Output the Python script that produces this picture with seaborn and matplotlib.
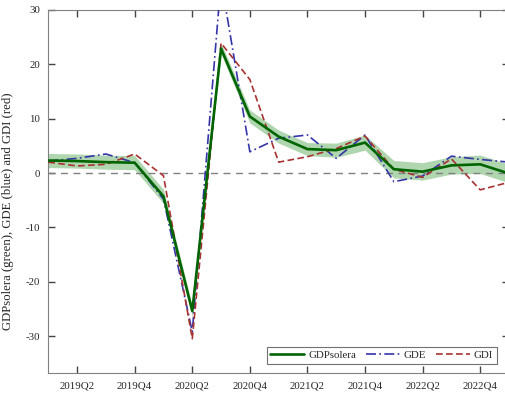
import numpy as np
import pandas as pd
import matplotlib
matplotlib.use("Agg")
import matplotlib.pyplot as plt
import seaborn as sns

quarters = ["2019Q1", "2019Q2", "2019Q3", "2019Q4", "2020Q1", "2020Q2", "2020Q3", "2020Q4",
            "2021Q1", "2021Q2", "2021Q3", "2021Q4", "2022Q1", "2022Q2", "2022Q3", "2022Q4", "2023Q1"]
gdp_solera = [2.3, 2.2, 2.0, 1.9, -4.3, -25.4, 22.9, 10.4, 6.7, 4.4, 4.2, 5.6, 0.7, 0.25, 1.4, 1.6, -0.1]
band_upper = [3.6, 3.5, 3.3, 3.2, -3.0, -24.4, 23.9, 11.6, 7.9, 5.6, 5.5, 7.0, 2.3, 1.9, 3.0, 3.3, 1.6]
band_lower = [1.0, 0.9, 0.7, 0.6, -5.6, -26.4, 21.9, 9.2, 5.5, 3.2, 2.9, 4.2, -0.9, -1.3, -0.2, -0.1, -1.8]
gde = [2.2, 2.7, 3.5, 1.9, -4.8, -29.2, 35.5, 3.9, 6.4, 7.0, 2.7, 7.0, -1.6, -0.55, 3.1, 2.5, 2.0]
gdi = [2.0, 1.3, 1.6, 3.5, -0.5, -30.5, 23.9, 17.2, 2.0, 3.0, 4.5, 6.8, 0.7, -0.8, 2.6, -3.1, -1.7]
tick_labels = ["2019Q2", "2019Q4", "2020Q2", "2020Q4", "2021Q2", "2021Q4", "2022Q2", "2022Q4"]
y_ticks = [-30, -20, -10, 0, 10, 20, 30]

sns.set_style("ticks")
plt.rcParams['font.family'] = ['Liberation Serif', 'DejaVu Serif']
plt.rcParams.update({
    "xtick.direction": "in", "ytick.direction": "in",
    "xtick.top": True, "xtick.bottom": True, "ytick.left": True, "ytick.right": True,
    "xtick.major.size": 5, "ytick.major.size": 5,
    "xtick.major.width": 1.0, "ytick.major.width": 1.0,
    "xtick.color": "#444444", "ytick.color": "#444444",
    "xtick.labelcolor": "#262626", "ytick.labelcolor": "#262626",
    "xtick.labelsize": 7.8, "ytick.labelsize": 7.8,
    "xtick.major.pad": 6, "ytick.major.pad": 6,
})

x = np.arange(len(quarters))
df = pd.DataFrame({"x": x, "GDPsolera": gdp_solera, "GDE": gde, "GDI": gdi,
                   "lo": band_lower, "hi": band_upper})

fig = plt.figure(figsize=(5.05, 3.97), dpi=100)
W, H = 505, 397
left, right, top, bottom = 48.3, 509.0, 10.0, 372.7
ax = fig.add_axes([left / W, 1 - bottom / H, (right - left) / W, (bottom - top) / H])

ax.fill_between(df["x"], df["lo"], df["hi"], color="#b0d6b0", lw=0, zorder=2)
ax.axhline(0, color="#808080", lw=1.0, ls=(0, (5, 4)), zorder=3)
sns.lineplot(data=df, x="x", y="GDPsolera", ax=ax, color="#006400", lw=1.9, label="GDPsolera", zorder=5)
sns.lineplot(data=df, x="x", y="GDE", ax=ax, color="#3535a8", lw=1.2, label="GDE", zorder=4)
sns.lineplot(data=df, x="x", y="GDI", ax=ax, color="#a83232", lw=1.2, label="GDI", zorder=4)
ax.lines[-2].set_linestyle((0, (6, 2, 1, 2)))
ax.lines[-1].set_linestyle((0, (4, 2)))

ax.set_xlim(0, len(quarters) - 1)
ax.set_ylim(-36.75, 30)
ax.set_xticks([quarters.index(t) for t in tick_labels])
ax.set_xticklabels(tick_labels)
ax.set_yticks(y_ticks)
ax.set_yticklabels([str(t) for t in y_ticks])
ax.set_xlabel("")
ax.set_ylabel("GDPsolera (green), GDE (blue) and GDI (red)", fontsize=9.2, color="#262626")
ax.yaxis.set_label_coords(-0.075, 0.446)
ax.tick_params(axis="both", which="major", direction="in", length=5, width=1.0, color="#444444",
               top=True, right=True, bottom=True, left=True)
for s in ax.spines.values():
    s.set_visible(True)
    s.set_color("#808080")
    s.set_linewidth(0.8)

leg = ax.legend(loc="lower right", bbox_to_anchor=(0.974, 0.024), borderaxespad=0, ncol=3,
                fontsize=7.8, frameon=True, fancybox=False, edgecolor="#4d4d4d",
                handlelength=3.1, handletextpad=0.4, columnspacing=0.9, borderpad=0.35)
leg.get_frame().set_linewidth(0.8)

fig.savefig("out.png", dpi=100)
